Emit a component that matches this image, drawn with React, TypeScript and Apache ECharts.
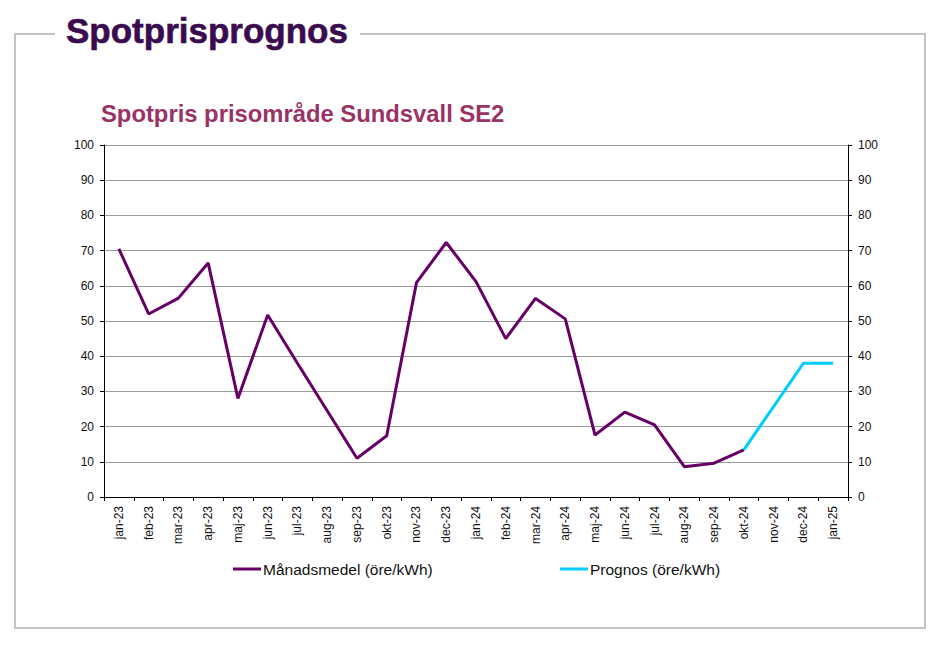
import React, { useEffect, useRef } from "react";
import * as echarts from "echarts";

const categories = [
  "jan-23", "feb-23", "mar-23", "apr-23", "maj-23", "jun-23", "jul-23", "aug-23",
  "sep-23", "okt-23", "nov-23", "dec-23", "jan-24", "feb-24", "mar-24", "apr-24",
  "maj-24", "jun-24", "jul-24", "aug-24", "sep-24", "okt-24", "nov-24", "dec-24", "jan-25",
];

const manadsmedel: (number | null)[] = [
  70.5, 52, 56.5, 66.5, 28, 51.7, 38, 24.5, 11, 17.4, 60.9, 72.3,
  61.2, 45, 56.4, 50.6, 17.6, 24.1, 20.5, 8.6, 9.6, 13.4, null, null, null,
];

const prognos: (number | null)[] = [
  null, null, null, null, null, null, null, null, null, null, null, null,
  null, null, null, null, null, null, null, null, null, 13.4, 25.7, 38, 38,
];

const yTicks = [0, 10, 20, 30, 40, 50, 60, 70, 80, 90, 100];

const seriesNames = ["Månadsmedel (öre/kWh)", "Prognos (öre/kWh)"];
const mainTitle = "Spotprisprognos";
const subTitle = "Spotpris prisområde Sundsvall SE2";

const FONT = '"Liberation Sans", Arial, sans-serif';

export default function App() {
  const ref = useRef<HTMLDivElement>(null);
  useEffect(() => {
    if (!ref.current) return;
    const chart = echarts.init(ref.current, undefined, { renderer: "svg" });
    const yAxisBase = {
      type: "value" as const,
      min: yTicks[0],
      max: yTicks[yTicks.length - 1],
      interval: 10,
      axisLine: { show: true, lineStyle: { color: "#000", width: 1 } },
      axisTick: { show: true, length: 4, lineStyle: { color: "#000" } },
      axisLabel: { color: "#111", fontSize: 12, fontFamily: FONT, margin: 10 },
    };
    const legendText = { fontSize: 15.5, color: "#111", fontFamily: FONT, padding: [0, 0, 0, -3] };
    chart.setOption({
      animation: false,
      backgroundColor: "#fff",
      textStyle: { fontFamily: FONT },
      graphic: [
        {
          type: "rect",
          shape: { x: 15, y: 34, width: 910, height: 594 },
          style: { fill: "none", stroke: "#c3c3c3", lineWidth: 2 },
          z: 0,
        },
        {
          type: "rect",
          shape: { x: 55, y: 20, width: 305, height: 28 },
          style: { fill: "#fff" },
          z: 1,
        },
        {
          type: "text",
          x: 66,
          y: 30,
          z: 2,
          style: {
            text: mainTitle,
            font: `bold 35px ${FONT}`,
            fill: "#3a0c4f",
            stroke: "#3a0c4f",
            lineWidth: 0.6,
            verticalAlign: "middle",
          },
        },
        {
          type: "text",
          x: 101,
          y: 113,
          z: 2,
          style: {
            text: subTitle,
            font: `bold 23.8px ${FONT}`,
            fill: "#993366",
            verticalAlign: "middle",
          },
        },
      ],
      grid: { left: 104, right: 96, top: 145, bottom: 151, containLabel: false },
      legend: [
        {
          data: [seriesNames[0]],
          left: 228,
          top: 556,
          icon: "rect",
          itemWidth: 28,
          itemHeight: 3,
          itemGap: 0,
          textStyle: legendText,
        },
        {
          data: [seriesNames[1]],
          left: 555,
          top: 556,
          icon: "rect",
          itemWidth: 28,
          itemHeight: 3,
          itemGap: 0,
          textStyle: legendText,
        },
      ],
      xAxis: {
        type: "category",
        data: categories,
        boundaryGap: true,
        axisLine: { show: true, lineStyle: { color: "#000", width: 1 } },
        axisTick: { show: true, length: 4, alignWithLabel: false, lineStyle: { color: "#000" } },
        axisLabel: {
          rotate: 90,
          interval: 0,
          fontSize: 12,
          color: "#111",
          fontFamily: FONT,
          margin: 9,
        },
        splitLine: { show: false },
      },
      yAxis: [
        {
          ...yAxisBase,
          position: "left",
          splitLine: { show: true, lineStyle: { color: "#9a9a9a", width: 1 } },
        },
        {
          ...yAxisBase,
          position: "right",
          splitLine: { show: false },
        },
      ],
      series: [
        {
          name: seriesNames[0],
          type: "line",
          data: manadsmedel,
          symbol: "none",
          connectNulls: false,
          lineStyle: { color: "#660066", width: 3 },
          itemStyle: { color: "#660066" },
          z: 3,
        },
        {
          name: seriesNames[1],
          type: "line",
          data: prognos,
          symbol: "none",
          connectNulls: false,
          lineStyle: { color: "#00ccff", width: 3 },
          itemStyle: { color: "#00ccff" },
          z: 3,
        },
      ],
    });
    return () => chart.dispose();
  }, []);
  return (
    <div
      ref={ref}
      style={{ position: "absolute", left: 0, top: 0, width: 944, height: 648, background: "#fff" }}
    />
  );
}
